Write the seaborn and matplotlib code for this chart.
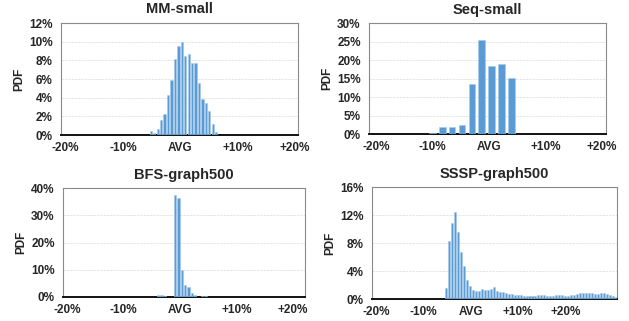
import numpy as np
import matplotlib
matplotlib.use("Agg")
import matplotlib.pyplot as plt
import seaborn as sns

# values (PDF in %, one value per bin)
mm_start, mm_width = -8.7, 0.6
mm_pdf = [0.05, 0.05, 0.05, 0.05, 0.05, 0.0, 0.43, 0.18, 0.64, 1.57, 2.25, 4.3, 5.9,
          8.1, 9.5, 9.93, 8.5, 8.64, 7.75, 7.75, 5.57, 3.9, 3.4, 2.57, 1.14, 0.32]

seq_start, seq_width = -10.0, 1.75
seq_pdf = [0.45, 2.1, 2.1, 2.6, 13.5, 25.5, 18.5, 19.1, 15.3]

bfs_start, bfs_width = -3.9, 0.6
bfs_pdf = [0.85, 0.85, 0.2, 0.0, 0.0, 37.7, 36.5, 9.8, 4.5, 3.7, 1.6, 0.85, 0.0, 0.35, 0.45]

sssp_start, sssp_width = -5.2, 0.63
sssp_pdf = [1.57, 8.3, 10.9, 12.4, 9.6, 6.7, 4.76, 2.67, 1.86, 1.33, 1.2, 1.1, 1.43, 1.33,
            1.29, 1.43, 1.67, 1.1, 1.0, 0.95, 0.9, 0.76, 0.76, 0.62, 0.62, 0.57, 0.48, 0.38,
            0.48, 0.43, 0.38, 0.52, 0.57, 0.52, 0.48, 0.48, 0.43, 0.52, 0.57, 0.52, 0.48, 0.48,
            0.57, 0.57, 0.71, 0.86, 0.86, 0.86, 0.81, 0.81, 0.71, 0.76, 0.81, 0.9, 0.71, 0.57,
            0.43, 0.33]

tick_vals = [-20, -10, 0, 10, 20]
tick_labels = ["-20%", "-10%", "AVG", "+10%", "+20%"]

sns.set_style("white")
plt.rcParams["font.family"] = ["Liberation Sans", "DejaVu Sans"]
plt.rcParams["font.weight"] = "bold"

fig = plt.figure(figsize=(6.29, 3.21), dpi=100)

panels = [
    ("MM-small", mm_start, mm_width, mm_pdf, 12, 2, (-20.8, 20.6), [0.097, 0.5794, 0.3768, 0.3489]),
    ("Seq-small", seq_start, seq_width, seq_pdf, 30, 5, (-21.2, 20.7), [0.5866, 0.5816, 0.3768, 0.3458]),
    ("BFS-graph500", bfs_start, bfs_width, bfs_pdf, 40, 10, (-20.7, 22.1), [0.1002, 0.0748, 0.3847, 0.3386]),
    ("SSSP-graph500", sssp_start, sssp_width, sssp_pdf, 16, 4, (-20.8, 30.9), [0.5914, 0.0685, 0.3895, 0.348]),
]

for title, start, width, pdf, ymax, ystep, xlim, rect in panels:
    ax = fig.add_axes(rect)
    x = np.round(start + width * np.arange(len(pdf)), 3)
    sns.barplot(x=x, y=pdf, native_scale=True, orient="x", width=0.68,
                color="#5b9bd5", edgecolor="#a8cbec", linewidth=0.4,
                saturation=1, errorbar=None, ax=ax, zorder=3)
    ax.set_xlim(*xlim)
    ax.set_ylim(0, ymax)
    yt = np.arange(0, ymax + 0.1, ystep)
    ax.set_yticks(yt)
    ax.set_yticklabels([f"{int(v)}%" for v in yt], fontsize=8.5, fontweight="bold")
    ax.set_xticks(tick_vals)
    ax.set_xticklabels(tick_labels, fontsize=8.5, fontweight="bold")
    ax.tick_params(length=0, pad=6)
    ax.tick_params(axis="x", pad=5)
    ax.grid(axis="y", color="#e2e2e2", linewidth=0.6, linestyle=(0, (3, 1)), zorder=0)
    ax.set_axisbelow(True)
    ax.set_ylabel("PDF", fontsize=8.5, fontweight="bold", labelpad=3)
    ax.set_xlabel("")
    ax.set_title(title, fontsize=10.5, fontweight="bold", pad=7)
    for side in ["top", "right", "left"]:
        ax.spines[side].set_color("#8a8a8a")
        ax.spines[side].set_linewidth(0.8)
    ax.spines["bottom"].set_color("#111111")
    ax.spines["bottom"].set_linewidth(1.4)

fig.savefig("out.png", dpi=100)
